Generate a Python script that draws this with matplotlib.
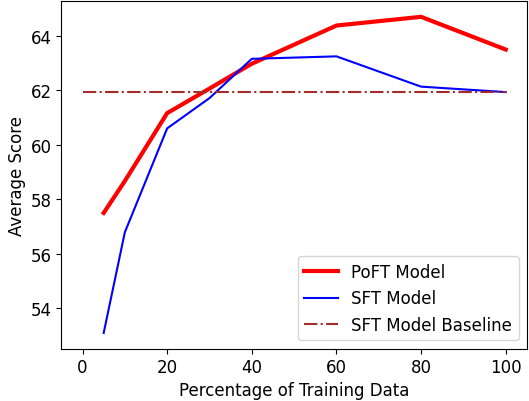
import matplotlib
matplotlib.use("Agg")
import matplotlib.pyplot as plt

pct = [5, 10, 20, 30, 40, 60, 80, 100]
poft = [57.5, 58.67, 61.16, 62.06, 62.97, 64.37, 64.69, 63.49]
sft = [53.1, 56.79, 60.6, 61.71, 63.15, 63.24, 62.13, 61.93]
baseline_x = [0, 100]
baseline_val = 61.93

fig, ax = plt.subplots(figsize=(5.29, 4.02), dpi=100)
ax.plot(pct, poft, color='red', linewidth=3, label='PoFT Model')
ax.plot(pct, sft, color='blue', linewidth=1.5, label='SFT Model')
ax.plot(baseline_x, [baseline_val] * len(baseline_x), color='brown', linestyle='-.',
        linewidth=1.5, label='SFT Model Baseline')
ax.set_xlabel('Percentage of Training Data', fontsize=12, labelpad=3)
ax.set_ylabel('Average Score', fontsize=12, labelpad=3)
ax.tick_params(labelsize=12)
ax.legend(fontsize=12, loc='lower right')
fig.subplots_adjust(left=0.116, right=0.996, top=0.995, bottom=0.13)
fig.savefig('out.png', dpi=100)
